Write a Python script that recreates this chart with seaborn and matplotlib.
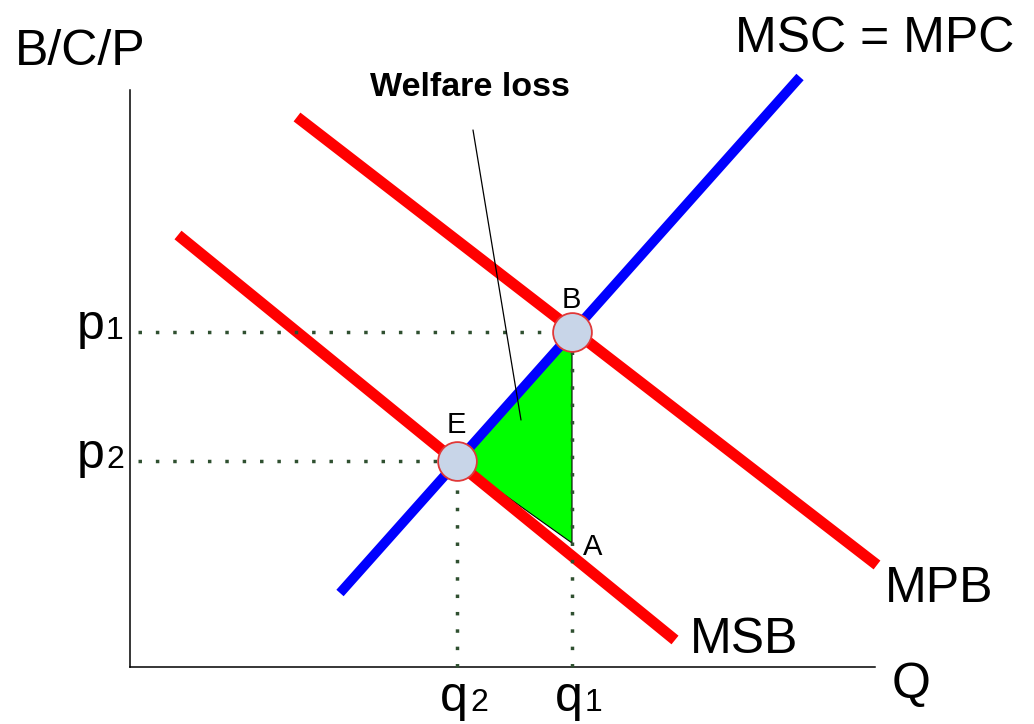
import matplotlib
matplotlib.use("Agg")
import matplotlib.pyplot as plt
import seaborn as sns
import pandas as pd

# curve endpoints (quantity, price) in diagram units
curve_names = ["MSC = MPC", "MPB", "MSB"]
curve_q = [[210, 670], [167, 747], [48, 545]]
curve_p = [[74, 590], [550, 102], [432, 27]]

# equilibrium points
point_names = ["B", "E"]
point_q = [442, 327]
point_p = [335, 206]

# welfare loss triangle: E, B, A
tri_q = [327, 442, 442]
tri_p = [206, 335, 124]

p_levels = [335, 206]
p_labels = ["1", "2"]
q_levels = [442, 327]
q_labels = ["1", "2"]

# build long table for seaborn
rows = []
for name, qs, ps in zip(curve_names, curve_q, curve_p):
    for q, p in zip(qs, ps):
        rows.append({"curve": name, "Q": q, "P": p})
curves = pd.DataFrame(rows)

sns.set_style("white")
plt.rcParams["font.family"] = ["Liberation Sans", "DejaVu Sans"]
plt.rcParams["text.color"] = "black"

fig = plt.figure(figsize=(10.34, 7.24), dpi=100)
ax = fig.add_axes([0, 0, 1, 1])
ax.set_xlim(-130, 904)
ax.set_ylim(-57, 667)

# green welfare loss area
ax.fill(tri_q, tri_p, color="#00ff00", ec="black", lw=0.8, zorder=1)

palette = {"MSC = MPC": "#0000ff", "MPB": "#ff0000", "MSB": "#ff0000"}
sizes = {"MSC = MPC": 7.0, "MPB": 8.0, "MSB": 8.0}
sns.lineplot(data=curves, x="Q", y="P", hue="curve", size="curve",
             palette=palette, sizes=sizes, sort=False, estimator=None,
             legend=False, ax=ax, solid_capstyle="butt", zorder=2)

# dotted guides
dot_col = "#2f5030"
for pv, qv in zip(p_levels, point_q):
    ax.plot([8, qv - 10], [pv, pv], color=dot_col, lw=2.5,
            ls=(0, (1, 4)), zorder=3)
for qv, pv in zip(q_levels, point_p):
    ax.plot([qv, qv], [0, pv - 10], color=dot_col, lw=2.5,
            ls=(0, (1, 4)), zorder=3)

# pointer for welfare loss
ax.plot([343, 391], [537, 247], color="black", lw=0.9, zorder=4)
ax.text(340, 579, "Welfare loss", fontsize=24.5, fontweight="bold",
        ha="center", va="center")

# equilibrium circles
sns.scatterplot(x=point_q, y=point_p, s=780, color="#c8d5e8",
                edgecolor="#e03838", linewidth=1.3, ax=ax, zorder=5,
                legend=False)

# axes
ax.set_xlabel("")
ax.set_ylabel("")
ax.spines["left"].set_position(("data", 0))
ax.spines["bottom"].set_position(("data", 0))
ax.spines["left"].set_bounds(0, 577)
ax.spines["bottom"].set_bounds(0, 745)
for s in ["left", "bottom"]:
    ax.spines[s].set_linewidth(1.1)
    ax.spines[s].set_color("black")
for s in ["top", "right"]:
    ax.spines[s].set_visible(False)
ax.set_xticks([])
ax.set_yticks([])
ax.patch.set_alpha(0)

big = 36
ax.text(-115, 602, "B/C/P", fontsize=big, ha="left", va="baseline")
ax.text(762, -31, "Q", fontsize=big, ha="left", va="baseline")
ax.text(605, 615, "MSC = MPC", fontsize=big, ha="left", va="baseline")
ax.text(755, 65, "MPB", fontsize=big, ha="left", va="baseline")
ax.text(560, 14, "MSB", fontsize=big, ha="left", va="baseline")

# point labels
ax.text(432, 359, "B", fontsize=21, ha="left", va="baseline")
ax.text(317, 234, "E", fontsize=21, ha="left", va="baseline")
ax.text(453, 112, "A", fontsize=21, ha="left", va="baseline")

# price labels p1, p2
for pv, lab in zip(p_levels, p_labels):
    ax.text(-25, pv - 7, "p", fontsize=big, ha="right", va="baseline")
    ax.text(-24, pv - 7, lab, fontsize=23, ha="left", va="baseline")
# quantity labels q1, q2
for qv, lab in zip(q_levels, q_labels):
    ax.text(qv + 11, -44, "q", fontsize=big, ha="right", va="baseline")
    ax.text(qv + 13, -44, lab, fontsize=23, ha="left", va="baseline")

fig.savefig("out.png", dpi=100, facecolor="white")
